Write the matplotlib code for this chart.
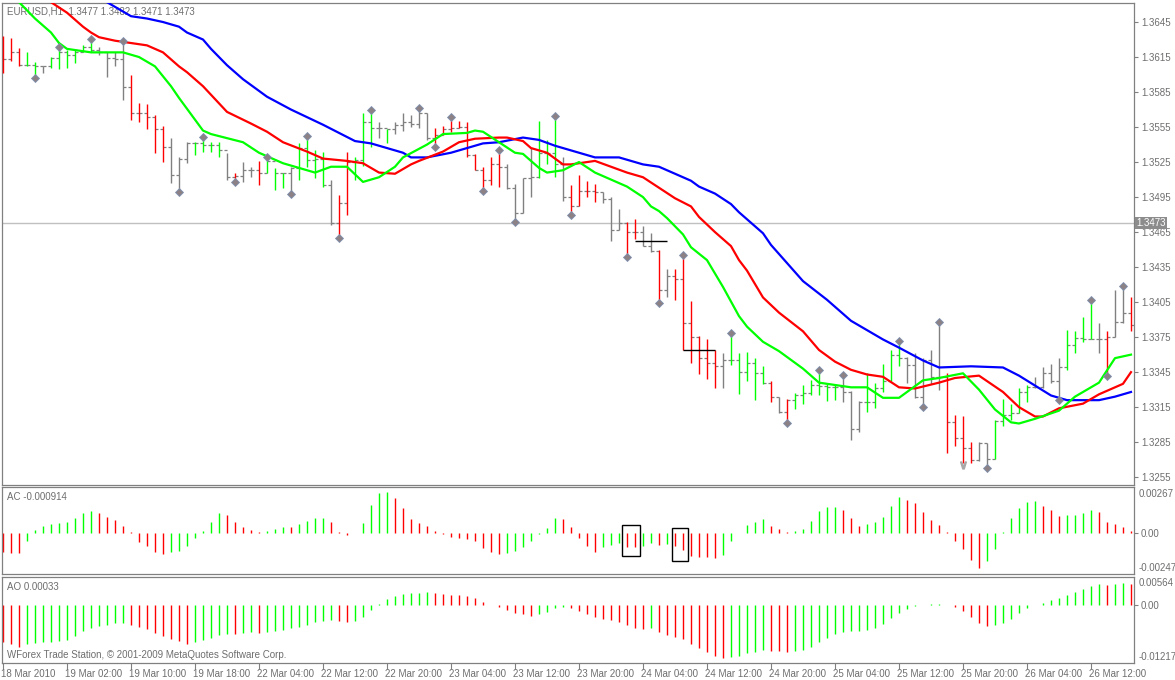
import matplotlib
matplotlib.use("Agg")
import matplotlib.pyplot as plt
from matplotlib import transforms

plt.rcParams['font.family'] = ['Liberation Sans', 'DejaVu Sans']

# ---------------- data (EURUSD H1) ----------------
time_labels = ["18 Mar 2010", "19 Mar 02:00", "19 Mar 10:00", "19 Mar 18:00",
               "22 Mar 04:00", "22 Mar 12:00", "22 Mar 20:00", "23 Mar 04:00",
               "23 Mar 12:00", "23 Mar 20:00", "24 Mar 04:00", "24 Mar 12:00",
               "24 Mar 20:00", "25 Mar 04:00", "25 Mar 12:00", "25 Mar 20:00",
               "26 Mar 04:00", "26 Mar 12:00"]
label_every = 8

first_open = 1.3631
highs = [1.3633,1.3631,1.3623,1.3619,1.3611,1.3607,1.3615,1.3622,1.3621,1.3621,
         1.3625,1.3629,1.3624,1.3619,1.3619,1.3627,1.3600,1.3576,1.3575,1.3565,
         1.3556,1.3546,1.3529,1.3542,1.3542,1.3545,1.3542,1.3542,1.3533,1.3516,
         1.3525,1.3521,1.3526,1.3528,1.3520,1.3516,1.3521,1.3541,1.3546,1.3535,
         1.3534,1.3510,1.3497,1.3534,1.3529,1.3567,1.3568,1.3559,1.3553,1.3559,
         1.3567,1.3565,1.3570,1.3567,1.3554,1.3556,1.3562,1.3560,1.3559,1.3532,
         1.3521,1.3529,1.3534,1.3523,1.3506,1.3511,1.3537,1.3560,1.3544,1.3563,
         1.3529,1.3505,1.3514,1.3509,1.3506,1.3499,1.3495,1.3485,1.3474,1.3476,
         1.3470,1.3464,1.3450,1.3433,1.3433,1.3444,1.3406,1.3376,1.3373,1.3364,
         1.3361,1.3377,1.3361,1.3362,1.3357,1.3350,1.3337,1.3324,1.3322,1.3327,
         1.3334,1.3338,1.3345,1.3335,1.3335,1.3341,1.3329,1.3320,1.3344,1.3336,
         1.3352,1.3364,1.3370,1.3358,1.3361,1.3357,1.3364,1.3386,1.3344,1.3308,
         1.3307,1.3285,1.3285,1.3284,1.3304,1.3322,1.3318,1.3331,1.3334,1.3341,
         1.3349,1.3352,1.3357,1.3381,1.3380,1.3392,1.3405,1.3387,1.3380,1.3415,
         1.3417,1.3409]
lows = [1.3601,1.3612,1.3607,1.3607,1.3599,1.3601,1.3606,1.3605,1.3606,1.3610,
        1.3619,1.3619,1.3617,1.3598,1.3607,1.3578,1.3561,1.3559,1.3553,1.3533,
        1.3525,1.3507,1.3501,1.3524,1.3531,1.3534,1.3534,1.3529,1.3510,1.3510,
        1.3508,1.3512,1.3505,1.3516,1.3501,1.3503,1.3499,1.3510,1.3521,1.3511,
        1.3504,1.3471,1.3462,1.3480,1.3510,1.3522,1.3538,1.3546,1.3541,1.3549,
        1.3552,1.3555,1.3554,1.3544,1.3540,1.3548,1.3551,1.3554,1.3529,1.3518,
        1.3502,1.3505,1.3504,1.3502,1.3475,1.3481,1.3495,1.3511,1.3523,1.3512,
        1.3492,1.3481,1.3487,1.3495,1.3491,1.3490,1.3457,1.3467,1.3445,1.3459,
        1.3453,1.3448,1.3406,1.3409,1.3407,1.3364,1.3353,1.3343,1.3339,1.3331,
        1.3331,1.3351,1.3326,1.3337,1.3321,1.3335,1.3319,1.3310,1.3303,1.3313,
        1.3318,1.3325,1.3325,1.3320,1.3321,1.3319,1.3287,1.3294,1.3311,1.3314,
        1.3328,1.3337,1.3350,1.3336,1.3323,1.3317,1.3335,1.3330,1.3276,1.3282,
        1.3267,1.3267,1.3269,1.3265,1.3271,1.3299,1.3304,1.3310,1.3319,1.3331,
        1.3331,1.3336,1.3323,1.3347,1.3361,1.3371,1.3373,1.3361,1.3343,1.3375,
        1.3387,1.3380]
closes = [1.3613,1.3619,1.3608,1.3608,1.3607,1.3607,1.3614,1.3619,1.3617,1.3619,
          1.3624,1.3621,1.3619,1.3614,1.3613,1.3589,1.3567,1.3567,1.3564,1.3553,
          1.3538,1.3514,1.3528,1.3541,1.3541,1.3540,1.3540,1.3535,1.3512,1.3513,
          1.3518,1.3518,1.3516,1.3526,1.3516,1.3516,1.3520,1.3537,1.3527,1.3528,
          1.3505,1.3473,1.3490,1.3525,1.3527,1.3559,1.3554,1.3554,1.3553,1.3557,
          1.3559,1.3558,1.3567,1.3546,1.3548,1.3553,1.3554,1.3555,1.3531,1.3518,
          1.3510,1.3523,1.3521,1.3503,1.3481,1.3511,1.3512,1.3533,1.3533,1.3523,
          1.3495,1.3487,1.3500,1.3500,1.3499,1.3493,1.3467,1.3473,1.3465,1.3465,
          1.3453,1.3449,1.3415,1.3427,1.3425,1.3387,1.3375,1.3357,1.3353,1.3350,
          1.3355,1.3355,1.3345,1.3353,1.3344,1.3336,1.3324,1.3311,1.3321,1.3325,
          1.3327,1.3334,1.3333,1.3332,1.3332,1.3328,1.3296,1.3319,1.3319,1.3331,
          1.3337,1.3360,1.3357,1.3351,1.3324,1.3355,1.3341,1.3341,1.3302,1.3289,
          1.3280,1.3270,1.3284,1.3271,1.3303,1.3308,1.3310,1.3328,1.3332,1.3332,
          1.3344,1.3337,1.3349,1.3368,1.3374,1.3373,1.3373,1.3373,1.3375,1.3388,
          1.3396,1.3385]
# bar colouring (r = red, g = green, n = grey)
bar_colors = ("rrrggngggg" "ggnnnnrrrr" "rnnnggggnr" "nnrgggnggg" "gnrrgggngn"
              "nnnnrrrrrr" "rrrnnnnggg" "nrrrrnnnrr" "nnrnrrrrrr" "ngggggrnrg"
              "gggggnnngg" "gggnnnnnrr" "rrnngggggn" "nnnggggnrn" "nr")

up_fractals = [7, 11, 15, 25, 33, 38, 46, 52, 56, 62, 69, 85, 91, 102, 105, 112, 117, 136, 140]
down_fractals = [4, 22, 29, 36, 42, 54, 60, 64, 71, 78, 82, 98, 115, 123, 132, 138]
chevron_bars = [120]

# Alligator lines (bar index, price)
jaw_bars = [13, 15, 16, 18, 20, 22, 23, 25, 26, 28, 30, 33, 36, 40, 44, 46, 50, 51, 53, 56, 58,
            60, 62, 65, 67, 69, 71, 74, 77, 80, 82, 83, 86, 87, 89, 91, 92, 95, 96, 100, 103,
            106, 110, 112, 115, 117, 121, 125, 127, 131, 133, 137, 139, 141]
jaw = [1.3662, 1.3654, 1.3650, 1.3648, 1.3645, 1.3641, 1.3636, 1.3630, 1.3622, 1.3608, 1.3596,
       1.3581, 1.3570, 1.3557, 1.3543, 1.3541, 1.3533, 1.3529, 1.3529, 1.3533, 1.3537, 1.3541,
       1.3542, 1.3546, 1.3544, 1.3539, 1.3535, 1.3529, 1.3529, 1.3523, 1.3521, 1.3518, 1.3509,
       1.3504, 1.3498, 1.3489, 1.3482, 1.3464, 1.3454, 1.3423, 1.3407, 1.3389, 1.3373, 1.3366,
       1.3355, 1.3349, 1.3350, 1.3349, 1.3342, 1.3325, 1.3321, 1.3321, 1.3324, 1.3328]
teeth_bars = [6, 8, 10, 11, 12, 14, 16, 18, 20, 22, 23, 25, 28, 31, 33, 35, 38, 40, 43, 45, 47,
              49, 51, 52, 55, 57, 59, 62, 63, 65, 66, 68, 70, 71, 74, 76, 78, 80, 82, 84, 86, 87,
              89, 91, 92, 93, 95, 97, 100, 102, 104, 106, 108, 110, 112, 114, 117, 119, 122, 125,
              127, 129, 130, 132, 135, 137, 140, 141]
teeth = [1.3662, 1.3653, 1.3641, 1.3636, 1.3632, 1.3629, 1.3627, 1.3625, 1.3619, 1.3607, 1.3602,
         1.3590, 1.3568, 1.3558, 1.3551, 1.3542, 1.3534, 1.3528, 1.3526, 1.3524, 1.3516, 1.3515,
         1.3523, 1.3526, 1.3534, 1.3542, 1.3545, 1.3546, 1.3546, 1.3543, 1.3537, 1.3533, 1.3523,
         1.3523, 1.3526, 1.3521, 1.3516, 1.3512, 1.3503, 1.3494, 1.3487, 1.3478, 1.3465, 1.3453,
         1.3441, 1.3432, 1.3409, 1.3396, 1.3380, 1.3364, 1.3354, 1.3347, 1.3343, 1.3341, 1.3332,
         1.3331, 1.3336, 1.3340, 1.3342, 1.3328, 1.3315, 1.3307, 1.3307, 1.3314, 1.3318, 1.3326,
         1.3335, 1.3345]
lips_bars = [2, 4, 6, 7, 8, 11, 13, 15, 17, 19, 21, 22, 25, 26, 30, 32, 35, 37, 39, 41, 43, 45,
             46, 47, 49, 50, 53, 55, 58, 59, 60, 62, 64, 65, 67, 68, 70, 72, 74, 76, 78, 80, 81,
             82, 83, 85, 86, 88, 90, 92, 93, 95, 97, 100, 102, 104, 106, 108, 110, 112, 115, 117,
             120, 122, 124, 126, 127, 129, 132, 134, 137, 139, 141]
lips = [1.3662, 1.3648, 1.3636, 1.3627, 1.3622, 1.3619, 1.3619, 1.3619, 1.3615, 1.3607, 1.3590,
        1.3580, 1.3552, 1.3549, 1.3542, 1.3533, 1.3524, 1.3520, 1.3516, 1.3521, 1.3521, 1.3508,
        1.3510, 1.3512, 1.3521, 1.3529, 1.3540, 1.3549, 1.3550, 1.3552, 1.3551, 1.3542, 1.3533,
        1.3532, 1.3520, 1.3516, 1.3518, 1.3525, 1.3516, 1.3510, 1.3504, 1.3495, 1.3487, 1.3483,
        1.3477, 1.3463, 1.3452, 1.3441, 1.3418, 1.3393, 1.3384, 1.3371, 1.3363, 1.3348, 1.3336,
        1.3334, 1.3332, 1.3332, 1.3323, 1.3323, 1.3338, 1.3340, 1.3344, 1.3330, 1.3313, 1.3302,
        1.3301, 1.3305, 1.3312, 1.3324, 1.3336, 1.3357, 1.3360]

current_price = 1.3473

# Accelerator oscillator
ac = [-0.00118,-0.00126,-0.00126,-0.00051,0.00014,0.00039,0.00051,0.00057,0.00065,0.00088,
      0.00120,0.00130,0.00120,0.00094,0.00075,0.00039,0.00004,-0.00057,-0.00082,-0.00118,
      -0.00133,-0.00118,-0.00112,-0.00082,-0.00033,0.00010,0.00065,0.00120,0.00108,0.00063,
      0.00033,0.00014,0.00002,0.00012,0.00024,0.00033,0.00032,0.00055,0.00071,0.00088,
      0.00088,0.00065,0.00004,-0.00016,-0.00002,0.00059,0.00170,0.00243,0.00249,0.00212,
      0.00149,0.00082,0.00059,0.00039,0.00010,-0.00010,-0.00024,-0.00033,-0.00041,-0.00053,
      -0.00094,-0.00118,-0.00133,-0.00122,-0.00112,-0.00088,-0.00051,-0.00010,0.00027,0.00088,
      0.00086,0.00037,-0.00032,-0.00081,-0.00117,-0.00090,-0.00073,-0.00063,-0.00088,-0.00090,
      -0.00084,-0.00063,-0.00073,-0.00067,-0.00082,-0.00104,-0.00141,-0.00151,-0.00152,-0.00157,
      -0.00135,-0.00053,-0.00002,0.00049,0.00065,0.00082,0.00041,0.00024,0.00006,0.00008,
      0.00024,0.00073,0.00131,0.00157,0.00159,0.00141,0.00088,0.00043,0.00053,0.00067,
      0.00098,0.00165,0.00218,0.00202,0.00184,0.00129,0.00080,0.00049,0.00004,-0.00051,
      -0.00102,-0.00169,-0.00218,-0.00175,-0.00098,0.00004,0.00092,0.00153,0.00190,0.00196,
      0.00163,0.00141,0.00104,0.00106,0.00108,0.00122,0.00141,0.00129,0.00067,0.00055,
      0.00037,0.00012]
ac_colors = ("rrrggggggg" "ggrrrrrrrr" "rgggggggrr" "rrrgggrggg" "grrrgggggr"
             "rrrrrrrrrr" "rrrggggggg" "rrrrrgggrr" "ggrgrrrrrr" "ggggggrrrg"
             "gggggrrrgg" "gggrrrrrrr" "rrrggggggg" "rrrggggrrr" "rr")

# Awesome oscillator
ao = [-0.00785,-0.00834,-0.00891,-0.00834,-0.00813,-0.00799,-0.00785,-0.00764,-0.00742,-0.00658,
      -0.00566,-0.00502,-0.00460,-0.00424,-0.00396,-0.00382,-0.00424,-0.00481,-0.00523,-0.00608,
      -0.00672,-0.00728,-0.00778,-0.00827,-0.00785,-0.00750,-0.00707,-0.00636,-0.00622,-0.00630,
      -0.00601,-0.00587,-0.00601,-0.00580,-0.00560,-0.00537,-0.00502,-0.00481,-0.00424,-0.00375,
      -0.00339,-0.00318,-0.00354,-0.00375,-0.00354,-0.00269,-0.00113,0.00014,0.00120,0.00184,
      0.00226,0.00240,0.00255,0.00276,0.00240,0.00226,0.00212,0.00198,0.00177,0.00141,
      0.00050,-0.00002,-0.00057,-0.00113,-0.00177,-0.00198,-0.00233,-0.00198,-0.00163,-0.00078,
      -0.00050,-0.00064,-0.00134,-0.00191,-0.00262,-0.00304,-0.00332,-0.00360,-0.00431,-0.00488,
      -0.00516,-0.00488,-0.00587,-0.00643,-0.00679,-0.00735,-0.00841,-0.00912,-0.00997,-0.01082,
      -0.01138,-0.01103,-0.01082,-0.01032,-0.01011,-0.00962,-0.00976,-0.00980,-0.00997,-0.00976,
      -0.00962,-0.00891,-0.00785,-0.00700,-0.00629,-0.00573,-0.00565,-0.00558,-0.00540,-0.00488,
      -0.00417,-0.00290,-0.00170,-0.00092,-0.00021,-0.00003,0.00010,0.00014,-0.00014,-0.00042,
      -0.00134,-0.00255,-0.00382,-0.00445,-0.00440,-0.00382,-0.00304,-0.00184,-0.00078,-0.00007,
      0.00028,0.00099,0.00134,0.00205,0.00262,0.00325,0.00396,0.00431,0.00420,0.00440,
      0.00460,0.00445]
ao_colors = ("rrrggggggg" "ggggggrrrr" "rrrrgggggr" "ggrggggggg" "ggrrgggggg"
             "ggggrrrrrr" "rrrrrrrggg" "grrrrrrrrr" "rgrrrrrrrr" "rgggggrrrg"
             "gggggggggg" "ggggggggrr" "rrrrgggggg" "ggggggggrg" "gr")

# user-drawn objects
hline_starts = [79, 85]
hline_ends = [83, 89]
hline_levels = [1.3457, 1.3364]
rect_x0 = [77.4, 83.6]
rect_x1 = [79.6, 85.6]
rect_lo = [-0.00143, -0.00174]
rect_hi = [0.00047, 0.00028]

main_ticks = [1.3255, 1.3285, 1.3315, 1.3345, 1.3375, 1.3405, 1.3435, 1.3465,
              1.3495, 1.3525, 1.3555, 1.3585, 1.3615, 1.3645]
ac_scale = [-0.00247, 0.0, 0.00267]
ao_scale = [-0.01217, 0.0, 0.00564]

# ---------------- figure ----------------
W, H = 1175, 680
fig = plt.figure(figsize=(W / 100, H / 100), dpi=100)
fig.patch.set_facecolor('white')

def px_axes(x0, y0, x1, y1):
    return fig.add_axes([x0 / W, 1 - y1 / H, (x1 - x0) / W, (y1 - y0) / H])

ax = px_axes(2, 3, 1134, 485)
ax_ac = px_axes(2, 487, 1134, 574)
ax_ao = px_axes(2, 577, 1134, 663)

GRAY = '#808080'
TXT = '#6e6e6e'
FS = 7
colmap = {'r': '#FF0000', 'g': '#00FF00', 'n': '#808080'}

n = len(closes)
idx = list(range(n))
opens = [first_open] + closes[:-1]

for a in (ax, ax_ac, ax_ao):
    a.set_xlim(-0.125, n - 0.625)
    a.set_facecolor('white')
    for s in a.spines.values():
        s.set_color(GRAY)
        s.set_linewidth(0.9)
    a.tick_params(axis='x', bottom=False, labelbottom=False)

# ---- main panel ----
ax.set_ylim(1.32483, 1.36613)
ax.axhline(current_price, color='#C0C0C0', lw=1.0, zorder=1)
ax.hlines(opens, [i - 0.4 for i in idx], idx, colors=GRAY, lw=0.9, zorder=2)
ax.hlines(closes, idx, [i + 0.4 for i in idx], colors=GRAY, lw=0.9, zorder=2)
ax.vlines(idx, lows, highs, colors=[colmap[c] for c in bar_colors], lw=1.0, zorder=3)

ax.plot(jaw_bars, jaw, color='#0000FF', lw=1.6, zorder=4, solid_joinstyle='round')
ax.plot(teeth_bars, teeth, color='#FF0000', lw=1.6, zorder=5, solid_joinstyle='round')
ax.plot(lips_bars, lips, color='#00FF00', lw=1.6, zorder=6, solid_joinstyle='round')

up_tr = transforms.offset_copy(ax.transData, fig=fig, x=0, y=2, units='dots')
dn_tr = transforms.offset_copy(ax.transData, fig=fig, x=0, y=-2, units='dots')
ax.plot(up_fractals, [highs[i] for i in up_fractals], linestyle='none', marker='D', ms=3.8,
        mfc='#8c8286', mec='#7d8fae', mew=0.6, transform=up_tr, zorder=7)
ax.plot(down_fractals, [lows[i] for i in down_fractals], linestyle='none', marker='D', ms=3.8,
        mfc='#8c8286', mec='#7d8fae', mew=0.6, transform=dn_tr, zorder=7)
ax.plot(chevron_bars, [lows[i] for i in chevron_bars], linestyle='none', marker=r'$\vee$',
        ms=5, color='#a8a8a8', transform=dn_tr, zorder=7)

ax.hlines(hline_levels, hline_starts, hline_ends, colors='black', lw=1.0, zorder=8)

ax.yaxis.tick_right()
ax.set_yticks(main_ticks)
ax.set_yticklabels(['%.4f' % v for v in main_ticks])
ax.tick_params(axis='y', right=True, length=3, width=0.8, color=GRAY, pad=2,
               labelsize=FS, labelcolor=TXT)

ax.text(1.0 + 2 / 1132, current_price, '%.4f' % current_price,
        transform=transforms.blended_transform_factory(ax.transAxes, ax.transData),
        ha='left', va='center', fontsize=FS, color='white', zorder=10, clip_on=False,
        bbox=dict(boxstyle='square,pad=0.12', fc='#8c8c8c', ec='none'))

ax.text(5 / 1132, 1 - 8 / 482, 'EURUSD,H1  %.4f %.4f %.4f %.4f' % (1.3477, 1.3482, 1.3471, 1.3473),
        transform=ax.transAxes, ha='left', va='center', fontsize=FS, color=TXT)

# ---- AC panel ----
ax_ac.set_ylim(-0.00253, 0.00279)
ax_ac.vlines(idx, 0, ac, colors=[colmap[c] for c in ac_colors], lw=1.0)
for x0, x1, lo, hi in zip(rect_x0, rect_x1, rect_lo, rect_hi):
    ax_ac.add_patch(plt.Rectangle((x0, lo), x1 - x0, hi - lo, fill=False, ec='black', lw=1.0))
ax_ac.yaxis.tick_right()
ax_ac.set_yticks([0.0])
ax_ac.set_yticklabels(['0.00'])
ax_ac.tick_params(axis='y', right=True, length=3, width=0.8, color=GRAY, pad=2,
                  labelsize=FS, labelcolor=TXT)
bt = transforms.blended_transform_factory(ax_ac.transAxes, ax_ac.transData)
ax_ac.text(1.0 + 5 / 1132, ac_scale[2], '%.5f' % ac_scale[2], transform=bt, ha='left', va='top',
           fontsize=FS, color=TXT, clip_on=False)
ax_ac.text(1.0 + 5 / 1132, ac_scale[0], '%.5f' % ac_scale[0], transform=bt, ha='left', va='bottom',
           fontsize=FS, color=TXT, clip_on=False)
ax_ac.text(5 / 1132, 1 - 10 / 87, 'AC -0.000914', transform=ax_ac.transAxes, ha='left',
           va='center', fontsize=FS, color=TXT)

# ---- AO panel ----
ax_ao.set_ylim(-0.01238, 0.00585)
ax_ao.vlines(idx, 0, ao, colors=[colmap[c] for c in ao_colors], lw=1.0)
ax_ao.yaxis.tick_right()
ax_ao.set_yticks([0.0])
ax_ao.set_yticklabels(['0.00'])
ax_ao.tick_params(axis='y', right=True, length=3, width=0.8, color=GRAY, pad=2,
                  labelsize=FS, labelcolor=TXT)
bt2 = transforms.blended_transform_factory(ax_ao.transAxes, ax_ao.transData)
ax_ao.text(1.0 + 5 / 1132, ao_scale[2], '%.5f' % ao_scale[2], transform=bt2, ha='left', va='top',
           fontsize=FS, color=TXT, clip_on=False)
ax_ao.text(1.0 + 5 / 1132, ao_scale[0], '%.5f' % ao_scale[0], transform=bt2, ha='left', va='bottom',
           fontsize=FS, color=TXT, clip_on=False)
ax_ao.text(5 / 1132, 1 - 10 / 86, 'AO 0.00033', transform=ax_ao.transAxes, ha='left',
           va='center', fontsize=FS, color=TXT)
ax_ao.text(5 / 1132, 8 / 86, 'WForex Trade Station, \u00a9 2001-2009 MetaQuotes Software Corp.',
           transform=ax_ao.transAxes, ha='left', va='center', fontsize=FS, color=TXT)

# time axis
tick_bars = [i * label_every for i in range(len(time_labels))]
ax_ao.set_xticks(tick_bars)
ax_ao.tick_params(axis='x', bottom=True, labelbottom=False, direction='out', length=4,
                  width=0.8, color=GRAY)
tb = transforms.blended_transform_factory(ax_ao.transData, ax_ao.transAxes)
for b, lab in zip(tick_bars, time_labels):
    ax_ao.text(b - 0.25, -11 / 86, lab, transform=tb, ha='left', va='center',
               fontsize=FS, color=TXT, clip_on=False)

fig.savefig('out.png', dpi=100, facecolor='white')
